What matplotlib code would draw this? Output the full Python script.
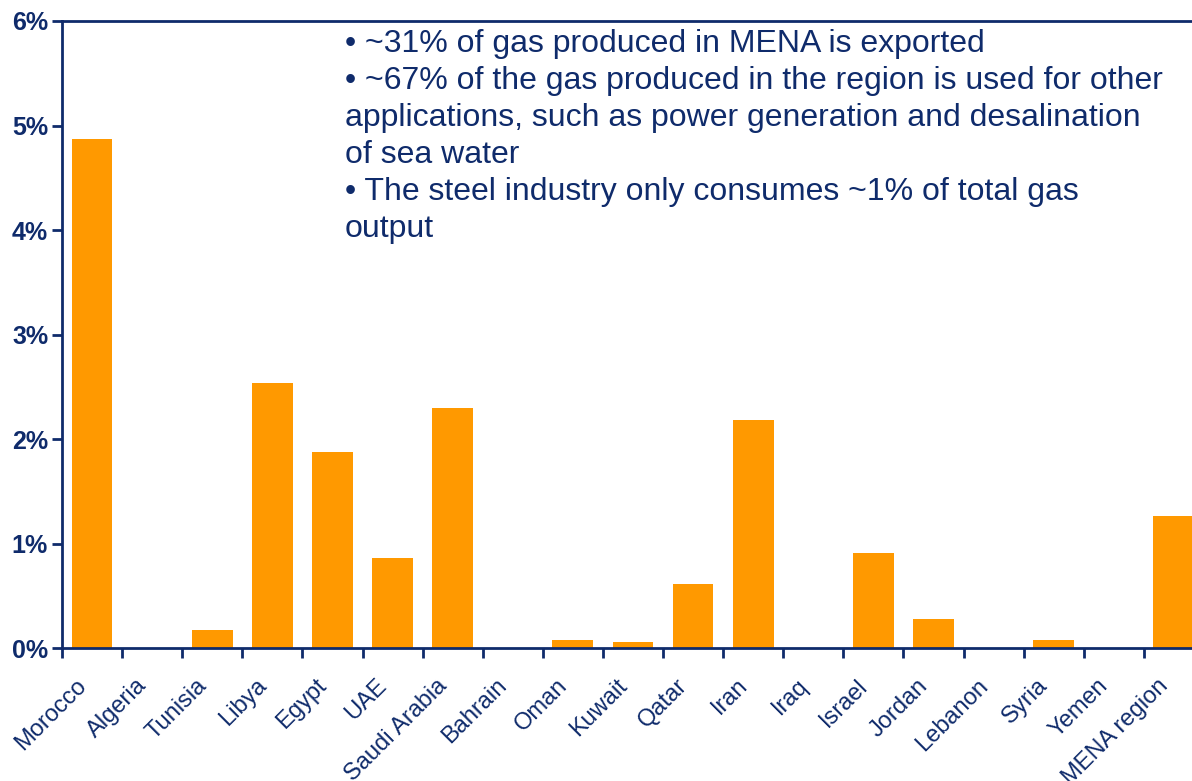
import matplotlib
matplotlib.use("Agg")
import matplotlib.pyplot as plt
import numpy as np

categories = ["Morocco", "Algeria", "Tunisia", "Libya", "Egypt", "UAE", "Saudi Arabia",
              "Bahrain", "Oman", "Kuwait", "Qatar", "Iran", "Iraq", "Israel", "Jordan",
              "Lebanon", "Syria", "Yemen", "MENA region"]
values = [4.87, 0.0, 0.175, 2.54, 1.88, 0.86, 2.30, 0.0, 0.08, 0.06, 0.615, 2.18,
          0.0, 0.91, 0.28, 0.0, 0.08, 0.0, 1.27]
ytick_vals = [0, 1, 2, 3, 4, 5, 6]
ytick_labels = ["0%", "1%", "2%", "3%", "4%", "5%", "6%"]
notes = ("\u2022 ~31% of gas produced in MENA is exported\n"
         "\u2022 ~67% of the gas produced in the region is used for other\n"
         "applications, such as power generation and desalination\n"
         "of sea water\n"
         "\u2022 The steel industry only consumes ~1% of total gas\n"
         "output")

navy = "#0F2B6B"
orange = "#FF9900"
plt.rcParams['font.family'] = ['Liberation Sans', 'DejaVu Sans']

W, H = 1192, 781
fig = plt.figure(figsize=(W / 100, H / 100), dpi=100)
n = len(categories)
step = 60.1
left_px, top_px, bottom_px = 62, 21, 648.3
ax = fig.add_axes([left_px / W, 1 - bottom_px / H, n * step / W, (bottom_px - top_px) / H])

x = np.arange(n)
ax.bar(x, values, width=0.68, color=orange, zorder=2)
ax.set_xlim(-0.5, n - 0.5)
ax.set_ylim(0, 6)

for s in ["left", "top", "bottom"]:
    ax.spines[s].set_color(navy)
    ax.spines[s].set_linewidth(2)
ax.spines["right"].set_visible(False)

ax.set_yticks(ytick_vals)
ax.set_yticklabels(ytick_labels, fontsize=18, fontweight='bold', color=navy)
ax.tick_params(axis='y', direction='out', length=7, width=2, color=navy, pad=3)

ax.set_xticks(np.arange(n + 1) - 0.5, minor=False)
ax.set_xticklabels([])
ax.tick_params(axis='x', direction='out', length=7, width=2, color=navy)
for i, c in enumerate(categories):
    ax.annotate(c, xy=(i, 0), xycoords='data', xytext=(-12, -19), textcoords='offset points',
                rotation=45, ha='right', va='top', rotation_mode='anchor',
                fontsize=17, color=navy, annotation_clip=False)

fig.text(345 / W, 1 - 29 / H, notes, ha='left', va='top', fontsize=23,
         color=navy, linespacing=1.3)

fig.savefig("out.png", dpi=100)
